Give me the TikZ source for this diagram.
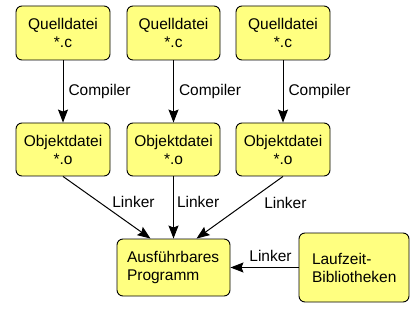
\documentclass[tikz,border=0pt]{standalone}
\usepackage{fontspec}
\setmainfont{Liberation Sans}
\usetikzlibrary{arrows.meta}
\definecolor{boxyellow}{RGB}{255,255,128}
\tikzset{
  filebox/.style={draw=black, fill=boxyellow, rounded corners=6pt, line width=0.9pt,
    inner sep=0pt, align=center, font=\fontsize{15.5}{18}\selectfont},
  arr/.style={line width=1pt, -{Stealth[length=13pt,width=10pt,inset=2pt]}},
  lbl/.style={inner sep=0pt, font=\fontsize{15.5}{18}\selectfont}
}
\begin{document}
\begin{tikzpicture}[x=1pt,y=-1pt]
\useasboundingbox (0,0) rectangle (418,318);
\node[filebox, minimum width=94pt, minimum height=54pt] (q1) at (63,33) {Quelldatei\\*.c};
\node[filebox, minimum width=93pt, minimum height=54pt] (q2) at (173.5,33) {Quelldatei\\*.c};
\node[filebox, minimum width=94pt, minimum height=54pt] (q3) at (283,33) {Quelldatei\\*.c};
\node[filebox, minimum width=94pt, minimum height=53pt] (o1) at (63,149.5) {Objektdatei\\*.o};
\node[filebox, minimum width=93pt, minimum height=53pt] (o2) at (173.5,149.5) {Objektdatei\\*.o};
\node[filebox, minimum width=94pt, minimum height=53pt] (o3) at (283,149.5) {Objektdatei\\*.o};
\node[filebox, align=left, minimum width=113pt, minimum height=57pt, text width=93pt] (a) at (173.5,267.5) {Ausführbares\\Programm};
\node[filebox, align=left, minimum width=110pt, minimum height=69pt, text width=84pt] (l) at (354,267.5) {Laufzeit-\\Bibliotheken};
\draw[arr] (q1) -- node[lbl, right=5pt] {Compiler} (o1);
\draw[arr] (q2) -- node[lbl, right=5pt] {Compiler} (o2);
\draw[arr] (q3) -- node[lbl, right=5pt] {Compiler} (o3);
\draw[arr] (o1.south) -- node[lbl, pos=0.41, right=13pt] {Linker} ([xshift=-23pt]a.north);
\draw[arr] (o2.south) -- node[lbl, pos=0.41, right=3pt] {Linker} (a.north);
\draw[arr] (o3.south) -- node[lbl, pos=0.43, right=18pt] {Linker} ([xshift=23pt]a.north);
\draw[arr] (l.west) -- node[lbl, above=5pt, xshift=6pt] {Linker} (a.east);
\end{tikzpicture}
\end{document}
